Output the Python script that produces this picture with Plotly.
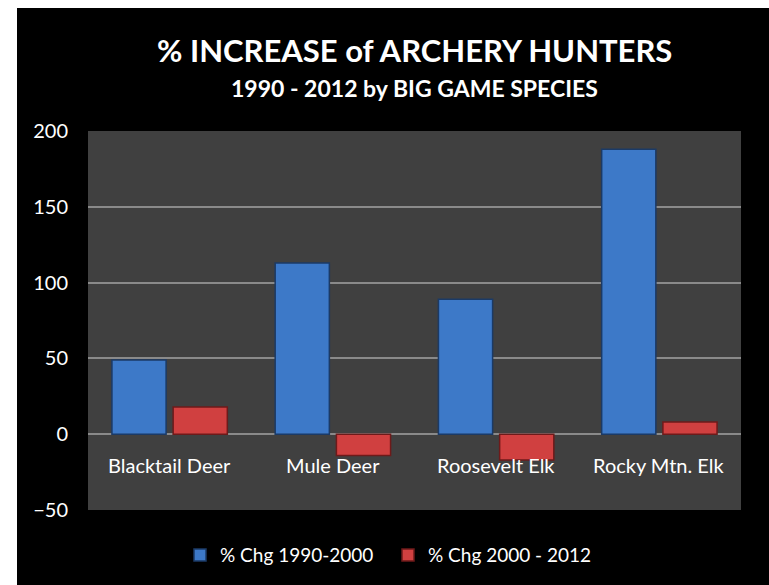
import plotly.graph_objects as go

categories = ["Blacktail Deer", "Mule Deer", "Roosevelt Elk", "Rocky Mtn. Elk"]
series_names = ["% Chg 1990-2000", "% Chg 2000 - 2012"]
chg_1990_2000 = [49, 113, 89, 188]
chg_2000_2012 = [18, -14, -17, 8]
y_ticks = [-50, 0, 50, 100, 150, 200]

FONT = "Lato"
W, H = 769, 585
ML, MR, MT, MB = 88, 28, 131, 75
PW, PH = W - ML - MR, H - MT - MB

fig = go.Figure()
fig.add_trace(go.Bar(x=categories, y=chg_1990_2000, name=series_names[0],
                     marker=dict(color="#3D79C8", line=dict(color="#1B3A66", width=1.5))))
fig.add_trace(go.Bar(x=categories, y=chg_2000_2012, name=series_names[1],
                     marker=dict(color="#D04040", line=dict(color="#6E1A1A", width=1.5))))

for c in categories:
    fig.add_annotation(x=c, y=0, xref="x", yref="y", text=c, showarrow=False,
                       yanchor="top", yshift=-17, font=dict(family=FONT, size=20, color="white"))

fig.add_annotation(x=0.5, y=1, xref="paper", yref="paper", yshift=81, text="<b>% INCREASE of ARCHERY HUNTERS</b>",
                   showarrow=False, yanchor="middle", font=dict(family=FONT, size=31, color="white"))
fig.add_annotation(x=0.5, y=1, xref="paper", yref="paper", yshift=43, text="<b>1990 - 2012 by BIG GAME SPECIES</b>",
                   showarrow=False, yanchor="middle", font=dict(family=FONT, size=23, color="white"))

# black chart area with a thin white border at left/top, then the gray plot area
fig.add_shape(type="rect", xref="paper", yref="paper", layer="below",
              x0=(17 - ML) / PW, x1=1 + (MR + 40) / PW, y0=-(MB + 40) / PH, y1=1 + (MT - 8) / PH,
              fillcolor="black", line=dict(width=0))
fig.add_shape(type="rect", xref="paper", yref="paper", layer="below",
              x0=0, x1=1, y0=0, y1=1, fillcolor="#404040", line=dict(width=0))

fig.update_layout(
    width=W, height=H,
    paper_bgcolor="white", plot_bgcolor="#404040",
    margin=dict(l=ML, r=MR, t=MT, b=MB, autoexpand=False),
    barmode="group", bargap=0.25, bargroupgap=0.115,
    font=dict(family=FONT, color="white", size=19),
    legend=dict(orientation="h", x=(195 - ML - 15) / PW, xanchor="left", y=-0.119, yanchor="middle",
                font=dict(family=FONT, size=19, color="white"), itemwidth=30,
                entrywidth=163, bgcolor="rgba(0,0,0,0)"),
    xaxis=dict(showticklabels=False, showgrid=False, zeroline=False, showline=False, ticks=""),
    yaxis=dict(range=[-50, 200], tickvals=y_ticks, showgrid=True, gridcolor="#8A8A8A", gridwidth=1.5,
               zeroline=True, zerolinecolor="#8A8A8A", zerolinewidth=1.5,
               tickfont=dict(family=FONT, size=20, color="white"), ticks="", ticklabelstandoff=19),
)
fig.write_html("out.html", config={"displayModeBar": False},
               post_script="document.body.style.margin='0';document.body.style.overflow='hidden';"
                           "document.body.style.background='black';"
                           "document.documentElement.style.overflow='hidden';"
                           "document.documentElement.style.background='black';")
